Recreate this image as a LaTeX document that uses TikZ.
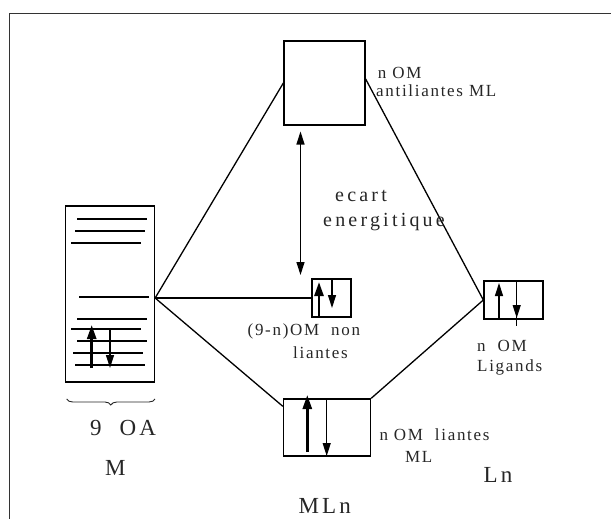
\documentclass[tikz,border=0pt]{standalone}
\usepackage{fontspec}
\setmainfont{Liberation Serif}
\newfontfamily\spc[LetterSpace=10]{Liberation Serif}
\newfontfamily\spcw[LetterSpace=16]{Liberation Serif}
\newfontfamily\spcb[LetterSpace=14]{Liberation Serif}
\usetikzlibrary{arrows.meta,decorations.pathreplacing}
\tikzset{
  box/.style={draw, line width=1.3pt, rectangle, inner sep=0pt},
  link/.style={line width=1.3pt},
  level/.style={line width=1.3pt},
  spin/.style={line width=1.2pt, -{Triangle[width=8pt,length=13pt]}},
  spinthick/.style={line width=2.6pt, -{Triangle[width=9pt,length=14pt]}},
  lbl/.style={text=black!85, inner sep=0pt, anchor=west, font=\spc\fontsize{17}{19}\selectfont},
  lblw/.style={text=black!85, inner sep=0pt, anchor=west, font=\spcw\fontsize{20}{23}\selectfont},
  lblbig/.style={text=black!85, inner sep=0pt, anchor=west, font=\spcb\fontsize{23}{26}\selectfont},
}
\begin{document}
\begin{tikzpicture}[x=1pt,y=-1pt]
\useasboundingbox (0,0) rectangle (611,519);
% frame
\draw[line width=1.4pt, black!80] (9.5,519) -- (9.5,13.5) -- (611,13.5);
% boxes
\node[box, minimum width=81pt, minimum height=84pt] (AB) at (324.5,83) {};
\node[box, minimum width=89pt, minimum height=176pt] (M) at (110,294) {};
\node[box, minimum width=39pt, minimum height=38pt] (NB) at (331.5,298) {};
\node[box, minimum width=59pt, minimum height=38pt] (LG) at (513.5,300) {};
\node[box, minimum width=87pt, minimum height=57pt] (B) at (327,427.5) {};
% connectors
\coordinate (mR) at ([yshift=-4pt]M.east);
\draw[link] (mR) -- (AB.west);
\draw[link] (mR) -- (NB.west);
\draw[link] (mR) -- ([yshift=-8pt]B.north west);
\draw[link] ([yshift=4pt]AB.east) -- (LG.west);
\draw[link] (B.north east) -- (LG.west);
% energy gap arrow
\coordinate (gapT) at (300.5,131.5);
\coordinate (gapB) at (300.5,275);
\draw[line width=1.3pt, {Triangle[width=8pt,length=13pt]}-{Triangle[width=8pt,length=13pt]}] (gapT) -- (gapB);
% M levels
\foreach \y/\a/\b in {219/77/147,231/75/145,243/71/141,297/79/149,319/77/147,329/71/141,341/77/147,353/73/143,365/75/145}
  \draw[level] (\a,\y) -- (\b,\y);
\draw[spinthick] (91.7,368) -- (91.7,325);
\draw[spin] (110,329) -- (110,368);
% non-bonding spins
\draw[spinthick] (319,317) -- (319,282);
\draw[spin] (332,279) -- (332,308);
% ligand box
\draw[link] (516.7,281) -- (516.7,326);
\draw[spin] (516.7,300) -- (516.7,318);
\draw[spin] (499,319) -- (499,283);
% bonding box
\draw[link] (326.7,399) -- (326.7,456);
\draw[spin] (326.7,430) -- (326.7,456);
\draw[spinthick] (307.3,452) -- (307.3,395);
% brace
\draw[line width=0.9pt, black!85, decorate, decoration={brace, mirror, amplitude=6pt}] (66.7,399) -- (155,399);
% labels
\node[lbl] (t1) at (377.7,72.7) {n OM};
\node[lbl] (t2) at (376,91) {antiliantes ML};
\node[lblw] (t3) at (335,196) {ecart};
\node[lblw] (t4) at (323,222) {energitique};
\node[lbl] (t5) at (247.5,331.7) {(9-n)OM\ \ non};
\node[lbl] (t6) at (293,353) {liantes};
\node[lbl] (t7) at (477,346) {n\ \ OM};
\node[lbl] (t8) at (477,367) {Ligands};
\node[lbl] (t9) at (379.3,435) {n OM\ \ liantes};
\node[lbl] (t10) at (405,457) {ML};
\node[lblbig] (t11) at (483.3,475) {Ln};
\node[lblbig] (t12) at (298.3,506) {MLn};
\node[lblbig] (t13) at (90,428) {9\ \ OA};
\node[lblbig] (t14) at (105,468) {M};
\end{tikzpicture}
\end{document}
